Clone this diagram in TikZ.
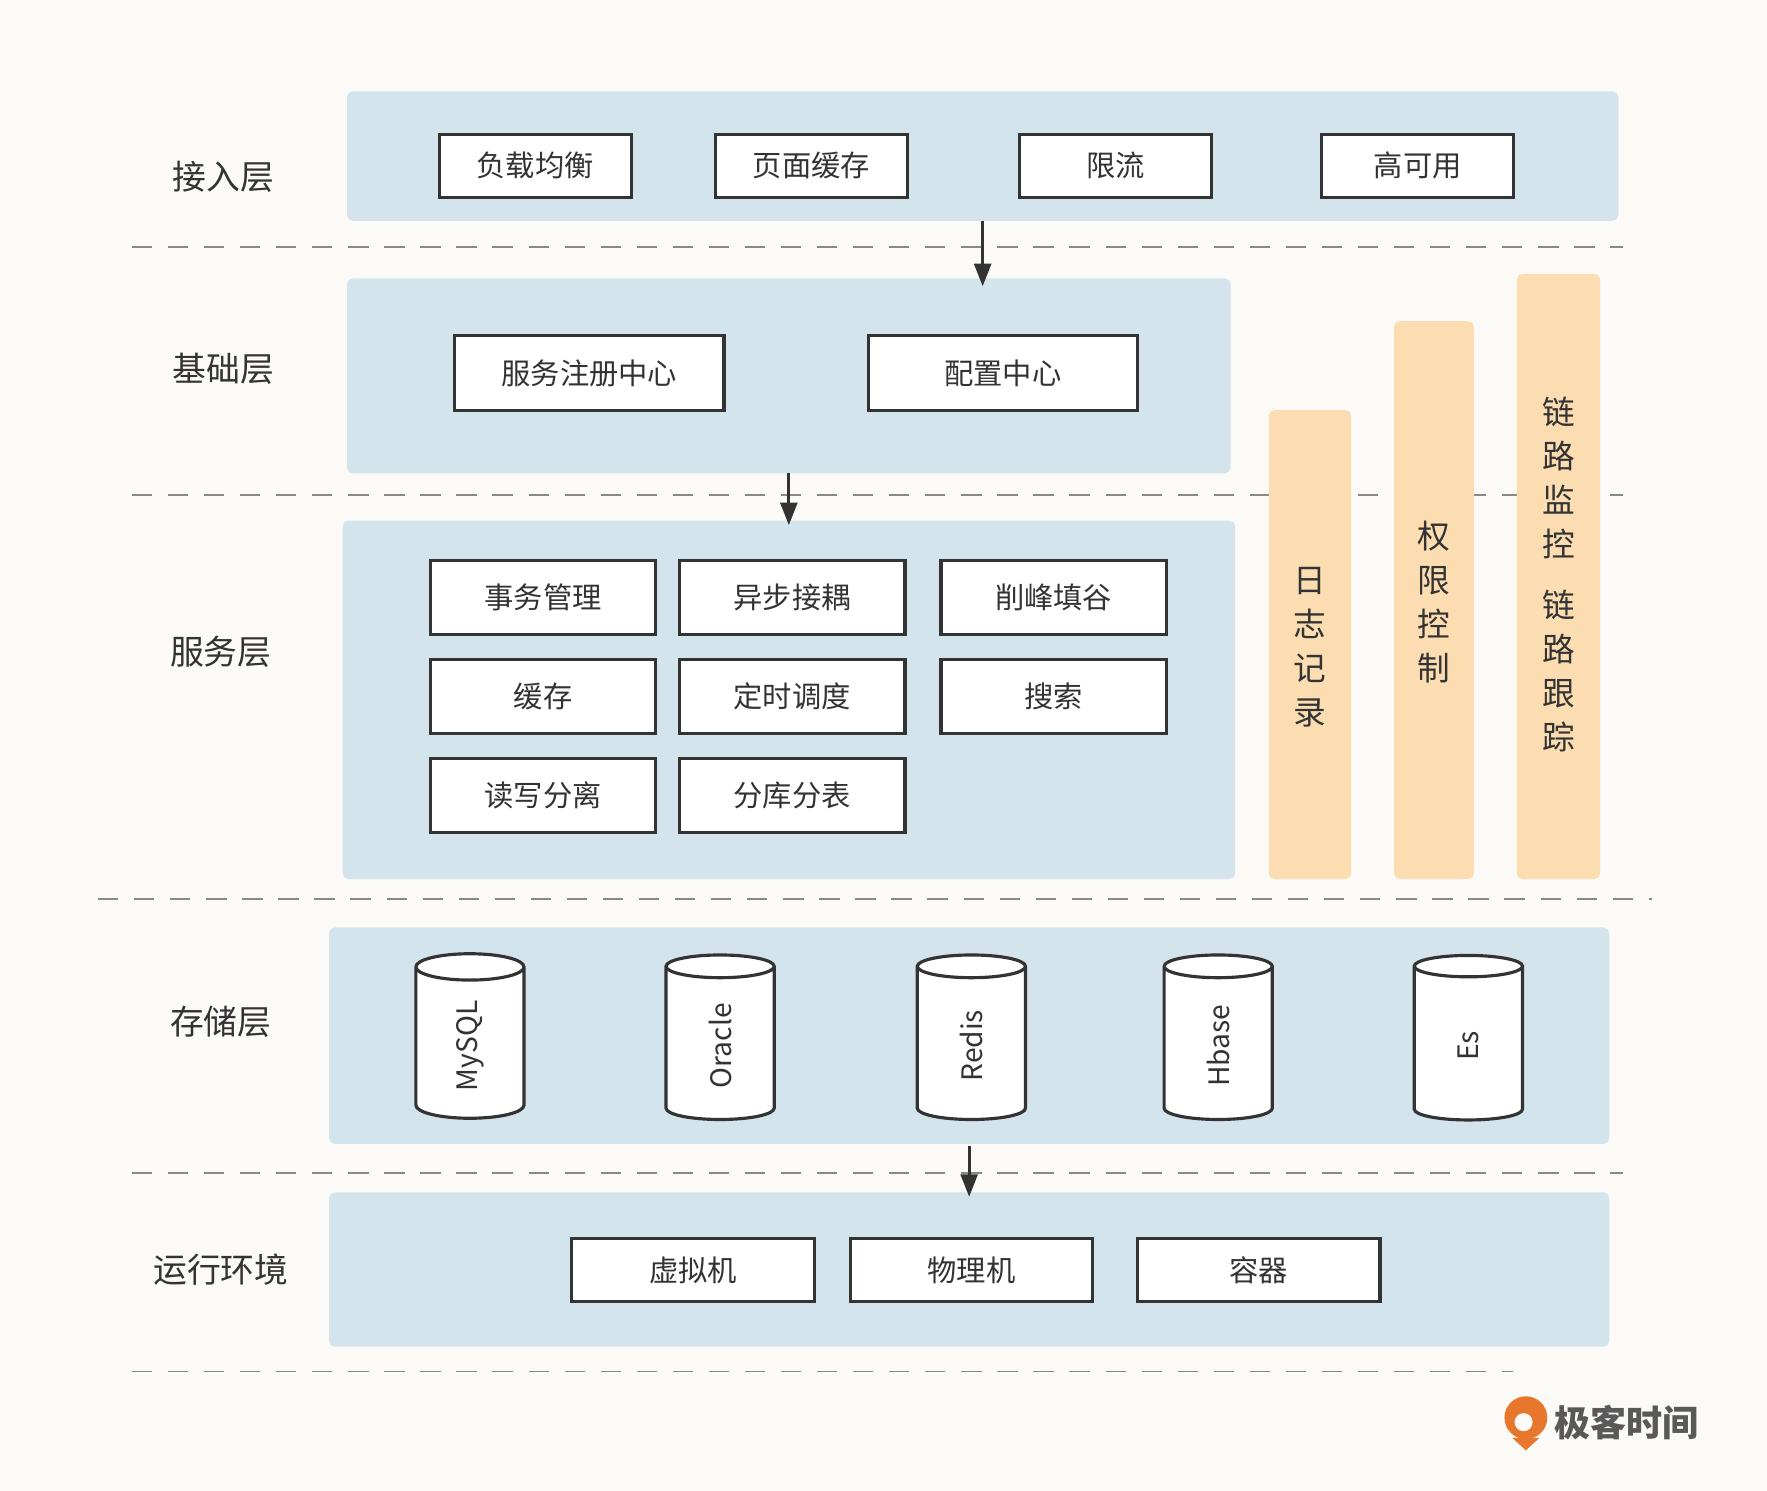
\documentclass[tikz,border=0pt]{standalone}
\usepackage{fontspec}
\setmainfont{Noto Sans CJK SC}
\usetikzlibrary{shapes.geometric,arrows.meta,positioning}
\definecolor{bgcol}{HTML}{FBFAF6}
\definecolor{panelcol}{HTML}{D4E4EC}
\definecolor{barcol}{HTML}{FCDDB2}
\definecolor{linecol}{HTML}{333333}
\definecolor{dashcol}{HTML}{888888}
\definecolor{logocol}{HTML}{E8772E}
\tikzset{
  panel/.style={fill=panelcol, rounded corners=5pt, draw=none},
  bar/.style={fill=barcol, rounded corners=5pt, draw=none},
  box/.style={draw=linecol, line width=2.8pt, fill=white, minimum height=56pt, font=\fontsize{26}{30}\selectfont, text=linecol},
  layer/.style={font=\fontsize{30}{34}\selectfont, text=linecol},
  db/.style={cylinder, draw=linecol, line width=2.8pt, fill=white, rotate=90, minimum height=146pt, minimum width=96pt, aspect=0.75, font=\fontsize{25}{30}\selectfont, text=linecol},
  sep/.style={dashcol, line width=1.5pt, dash pattern=on 18pt off 14pt},
  flow/.style={-{Triangle[length=20pt,width=15pt]}, line width=2.6pt, linecol},
  vtext/.style={align=center, font=\fontsize{29}{39}\selectfont, text=linecol}
}
\begin{document}
\begin{tikzpicture}[x=1pt,y=-1pt]
  \fill[bgcol] (0,0) rectangle (1568,1323);
  \useasboundingbox (0,0) rectangle (1568,1323);
  % separators
  \draw[sep] (117,219) -- (1440,219);
  \draw[sep] (117,439) -- (1440,439);
  \draw[sep] (87,798) -- (1466,798);
  \draw[sep] (117,1041) -- (1440,1041);
  \draw[sep] (117,1217) -- (1343,1217);
  % layer panels
  \fill[panel] (308,81) rectangle (1436,196);
  \fill[panel] (308,247) rectangle (1092,420);
  \fill[panel] (304,462) rectangle (1096,780);
  \fill[panel] (292,823) rectangle (1428,1015);
  \fill[panel] (292,1058) rectangle (1428,1195);
  % side bars
  \fill[bar] (1126,364) rectangle (1199,780);
  \fill[bar] (1237,285) rectangle (1308,780);
  \fill[bar] (1346,243) rectangle (1420,780);
  \node[vtext] (log) at (1162,574) {日\\志\\记\\录};
  \node[vtext] (auth) at (1272,534) {权\\限\\控\\制};
  \node[vtext] (trace) at (1383,510) {链\\路\\监\\控\\[15pt]链\\路\\跟\\踪};
  % layer names
  \node[layer] (l1) at (198,157) {接入层};
  \node[layer] (l2) at (198,327) {基础层};
  \node[layer] (l3) at (196,578) {服务层};
  \node[layer] (l4) at (196,907) {存储层};
  \node[layer] (l5) at (196,1127) {运行环境};
  % access layer
  \node[box, minimum width=170pt] (lb) at (475,147) {负载均衡};
  \node[box, minimum width=170pt] (pc) at (720,147) {页面缓存};
  \node[box, minimum width=170pt] (rl) at (990,147) {限流};
  \node[box, minimum width=170pt] (ha) at (1258,147) {高可用};
  % base layer
  \node[box, minimum width=239pt, minimum height=67pt] (reg) at (523,331) {服务注册中心};
  \node[box, minimum width=239pt, minimum height=67pt] (cfg) at (890,331) {配置中心};
  % service layer
  \foreach \name/\txt/\x/\y in {tx/事务管理/482/530, async/异步接耦/703/530, peak/削峰填谷/935/530,
      cache/缓存/482/618, sched/定时调度/703/618, search/搜索/935/618,
      rw/读写分离/482/706, shard/分库分表/703/706}
    \node[box, minimum width=200pt, minimum height=66pt] (\name) at (\x,\y) {\txt};
  % storage layer
  \foreach \name/\txt/\x in {mysql/MySQL/417, oracle/Oracle/639, redis/Redis/862, hbase/Hbase/1081, es/Es/1303}
    \node[db] (\name) at (\x,928) {\txt};
  % runtime layer
  \node[box, minimum width=215pt] (vm) at (615,1127) {虚拟机};
  \node[box, minimum width=215pt] (pm) at (862,1127) {物理机};
  \node[box, minimum width=215pt] (ct) at (1117,1127) {容器};
  % arrows between layers
  \coordinate (a1) at (872,196);
  \coordinate (b1) at (872,254);
  \coordinate (a2) at (700,420);
  \coordinate (b2) at (700,466);
  \coordinate (a3) at (860,1017);
  \coordinate (b3) at (860,1062);
  \draw[flow] (a1) -- (b1);
  \draw[flow] (a2) -- (b2);
  \draw[flow] (a3) -- (b3);
  % logo
  \fill[logocol] (1354,1258) circle (19pt);
  \fill[bgcol] (1352,1262) circle (8pt);
  \fill[logocol] (1342,1276) -- (1366,1276) -- (1354,1287) -- cycle;
  \node[font=\fontsize{32}{36}\selectfont\bfseries, text=black!65, anchor=west] (brand) at (1376,1262) {极客时间};
\end{tikzpicture}
\end{document}
